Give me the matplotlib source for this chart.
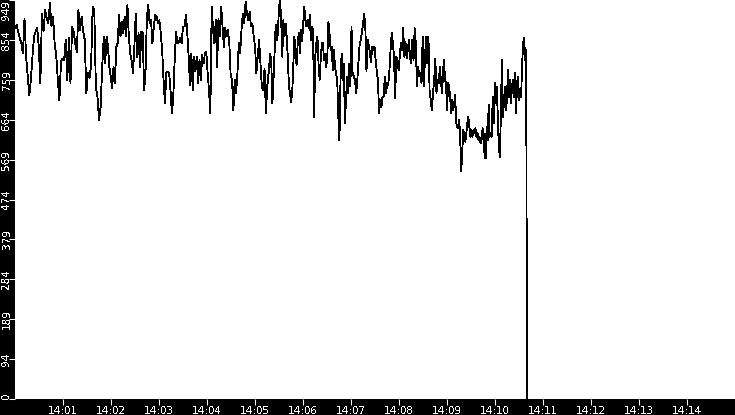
import numpy as np
import pandas as pd
import matplotlib
matplotlib.use('Agg')
import matplotlib.pyplot as plt
import matplotlib.dates as mdates
from matplotlib.ticker import FixedLocator, FixedFormatter

# readings in six stretches (values in units of the y axis)
seg_a = [882, 890, 874, 858, 846, 822, 905, 814, 767, 723, 759, 814, 862, 874, 882, 838, 751, 917, 874, 925,
         905, 893, 941, 886, 909, 846, 818, 759, 711, 802, 810, 806, 854, 759, 858, 751, 886, 874, 846, 826,
         925, 878, 909, 874, 854, 727, 775, 763, 794, 933, 925, 743, 719, 664, 695, 790]
seg_b = [862, 798, 862, 838, 790, 767, 739, 790, 751, 838, 846, 913, 862, 897, 870, 909, 862, 937, 862, 822,
         806, 775, 838, 917, 814, 870, 790, 874, 870, 735, 775, 909, 937, 893, 901, 846, 886, 913, 909, 893,
         901, 870, 830, 759, 703, 775, 779, 775, 735, 679, 719, 806, 874, 846, 850, 858, 846, 886]
seg_c = [886, 913, 870, 814, 747, 822, 735, 814, 779, 814, 751, 806, 759, 818, 798, 822, 826, 775, 735, 679,
         933, 878, 846, 901, 790, 905, 862, 933, 886, 838, 882, 862, 878, 846, 771, 759, 687, 759, 727, 775,
         846, 822, 878, 917, 893, 945, 917, 901, 921, 886, 893, 862, 838, 775, 814, 854, 798, 743, 735, 786,
         679, 743, 775]
seg_d = [822, 798, 703, 759, 822, 890, 854, 870, 933, 949, 901, 814, 901, 862, 893, 862, 814, 747, 727, 707,
         727, 790, 862, 830, 794, 846, 870, 822, 878, 850, 893, 933, 901, 886, 901, 882, 913, 854, 886, 878,
         671, 814, 846, 862, 798, 759, 810, 846, 846, 806, 822, 790, 814, 897, 870, 830, 838, 782, 830, 790,
         775, 759, 671, 616, 759, 822, 759, 798, 656, 711, 767, 727, 798, 743, 886, 775]
seg_e = [759, 727, 759, 802, 842, 854, 870, 893, 917, 886, 779, 854, 842, 822, 802, 838, 830, 838, 806, 779,
         759, 679, 711, 695, 719, 719, 767, 727, 751, 747, 782, 830, 870, 846, 814, 715, 814, 806, 782, 814,
         846, 830, 882, 814, 850, 810, 830, 854, 810, 798, 854, 806, 882, 846, 743, 790, 767, 775, 751, 862,
         743, 814, 862, 798, 862, 735, 711, 687, 727, 759, 810, 727, 759, 751, 790, 751, 727]
seg_f = [782, 806, 759, 751, 687, 751, 743, 719, 679, 711, 687, 703, 723, 656, 648, 644, 664, 616, 541, 592,
         640, 628, 612, 632, 656, 671, 648, 624, 640, 624, 640, 632, 644, 624, 632, 616, 624, 608, 616, 644,
         632, 576, 572, 648, 616, 699, 624, 632, 624, 719, 656, 751, 703, 743, 671, 600, 576, 671, 806, 671,
         703, 743, 687, 711, 782, 719, 759, 703, 743, 759, 719, 775, 679, 751, 767, 711, 727, 719, 798, 846,
         858, 806, 830]

# time span of each stretch, seconds after 14:00:00
seg_spans = [(0, 109), (111, 210), (212, 317), (319, 422), (425, 534), (535, 639)]
tail_secs = [639.5, 640]
tail_values = [420, 0]

y_max = 949
y_ticks = [round(y_max * k / 10, 1) for k in range(11)]
tick_minutes = list(range(1, 15))

start = pd.Timestamp('2024-01-01 14:00:00')

secs, vals = [], []
for seg, (s0, s1) in zip([seg_a, seg_b, seg_c, seg_d, seg_e, seg_f], seg_spans):
    secs.extend(np.linspace(s0, s1, len(seg)))
    vals.extend(seg)
secs.extend(tail_secs)
vals.extend(tail_values)
times = start + pd.to_timedelta(np.array(secs), unit='s')

plt.rcParams['text.antialiased'] = False

fig = plt.figure(figsize=(7.35, 4.15), dpi=100, facecolor='black')
ax = fig.add_axes([15 / 735, 16 / 415, 720 / 735, 399 / 415])
ax.set_facecolor('white')
for sp in ax.spines.values():
    sp.set_visible(False)

ax.plot(times, vals, color='black', linewidth=0.6, antialiased=False)

ax.set_xlim(start, start + pd.Timedelta(minutes=15))
ax.set_ylim(0, y_max)

# x axis: one tick per minute
ax.set_xticks([start + pd.Timedelta(minutes=m) for m in tick_minutes])
ax.xaxis.set_major_formatter(mdates.DateFormatter('%H:%M'))

# y axis: ten equal steps, labels truncated
ax.yaxis.set_major_locator(FixedLocator(y_ticks))
ax.yaxis.set_major_formatter(FixedFormatter([str(int(v)) for v in y_ticks]))

ax.tick_params(axis='both', colors='white', labelcolor='white', length=4, width=0.75,
               direction='out', labelsize=7.5)
ax.tick_params(axis='x', pad=1.2)
ax.tick_params(axis='y', pad=2.0)

ylabels = ax.get_yticklabels()
for i, lbl in enumerate(ylabels):
    lbl.set_rotation(90)
    lbl.set_rotation_mode('anchor')
    lbl.set_va('center')
    if i == 0:
        lbl.set_ha('left')
    elif i == len(ylabels) - 1:
        lbl.set_ha('right')
    else:
        lbl.set_ha('center')

fig.savefig('out.png', dpi=100, facecolor='black')
plt.close(fig)
